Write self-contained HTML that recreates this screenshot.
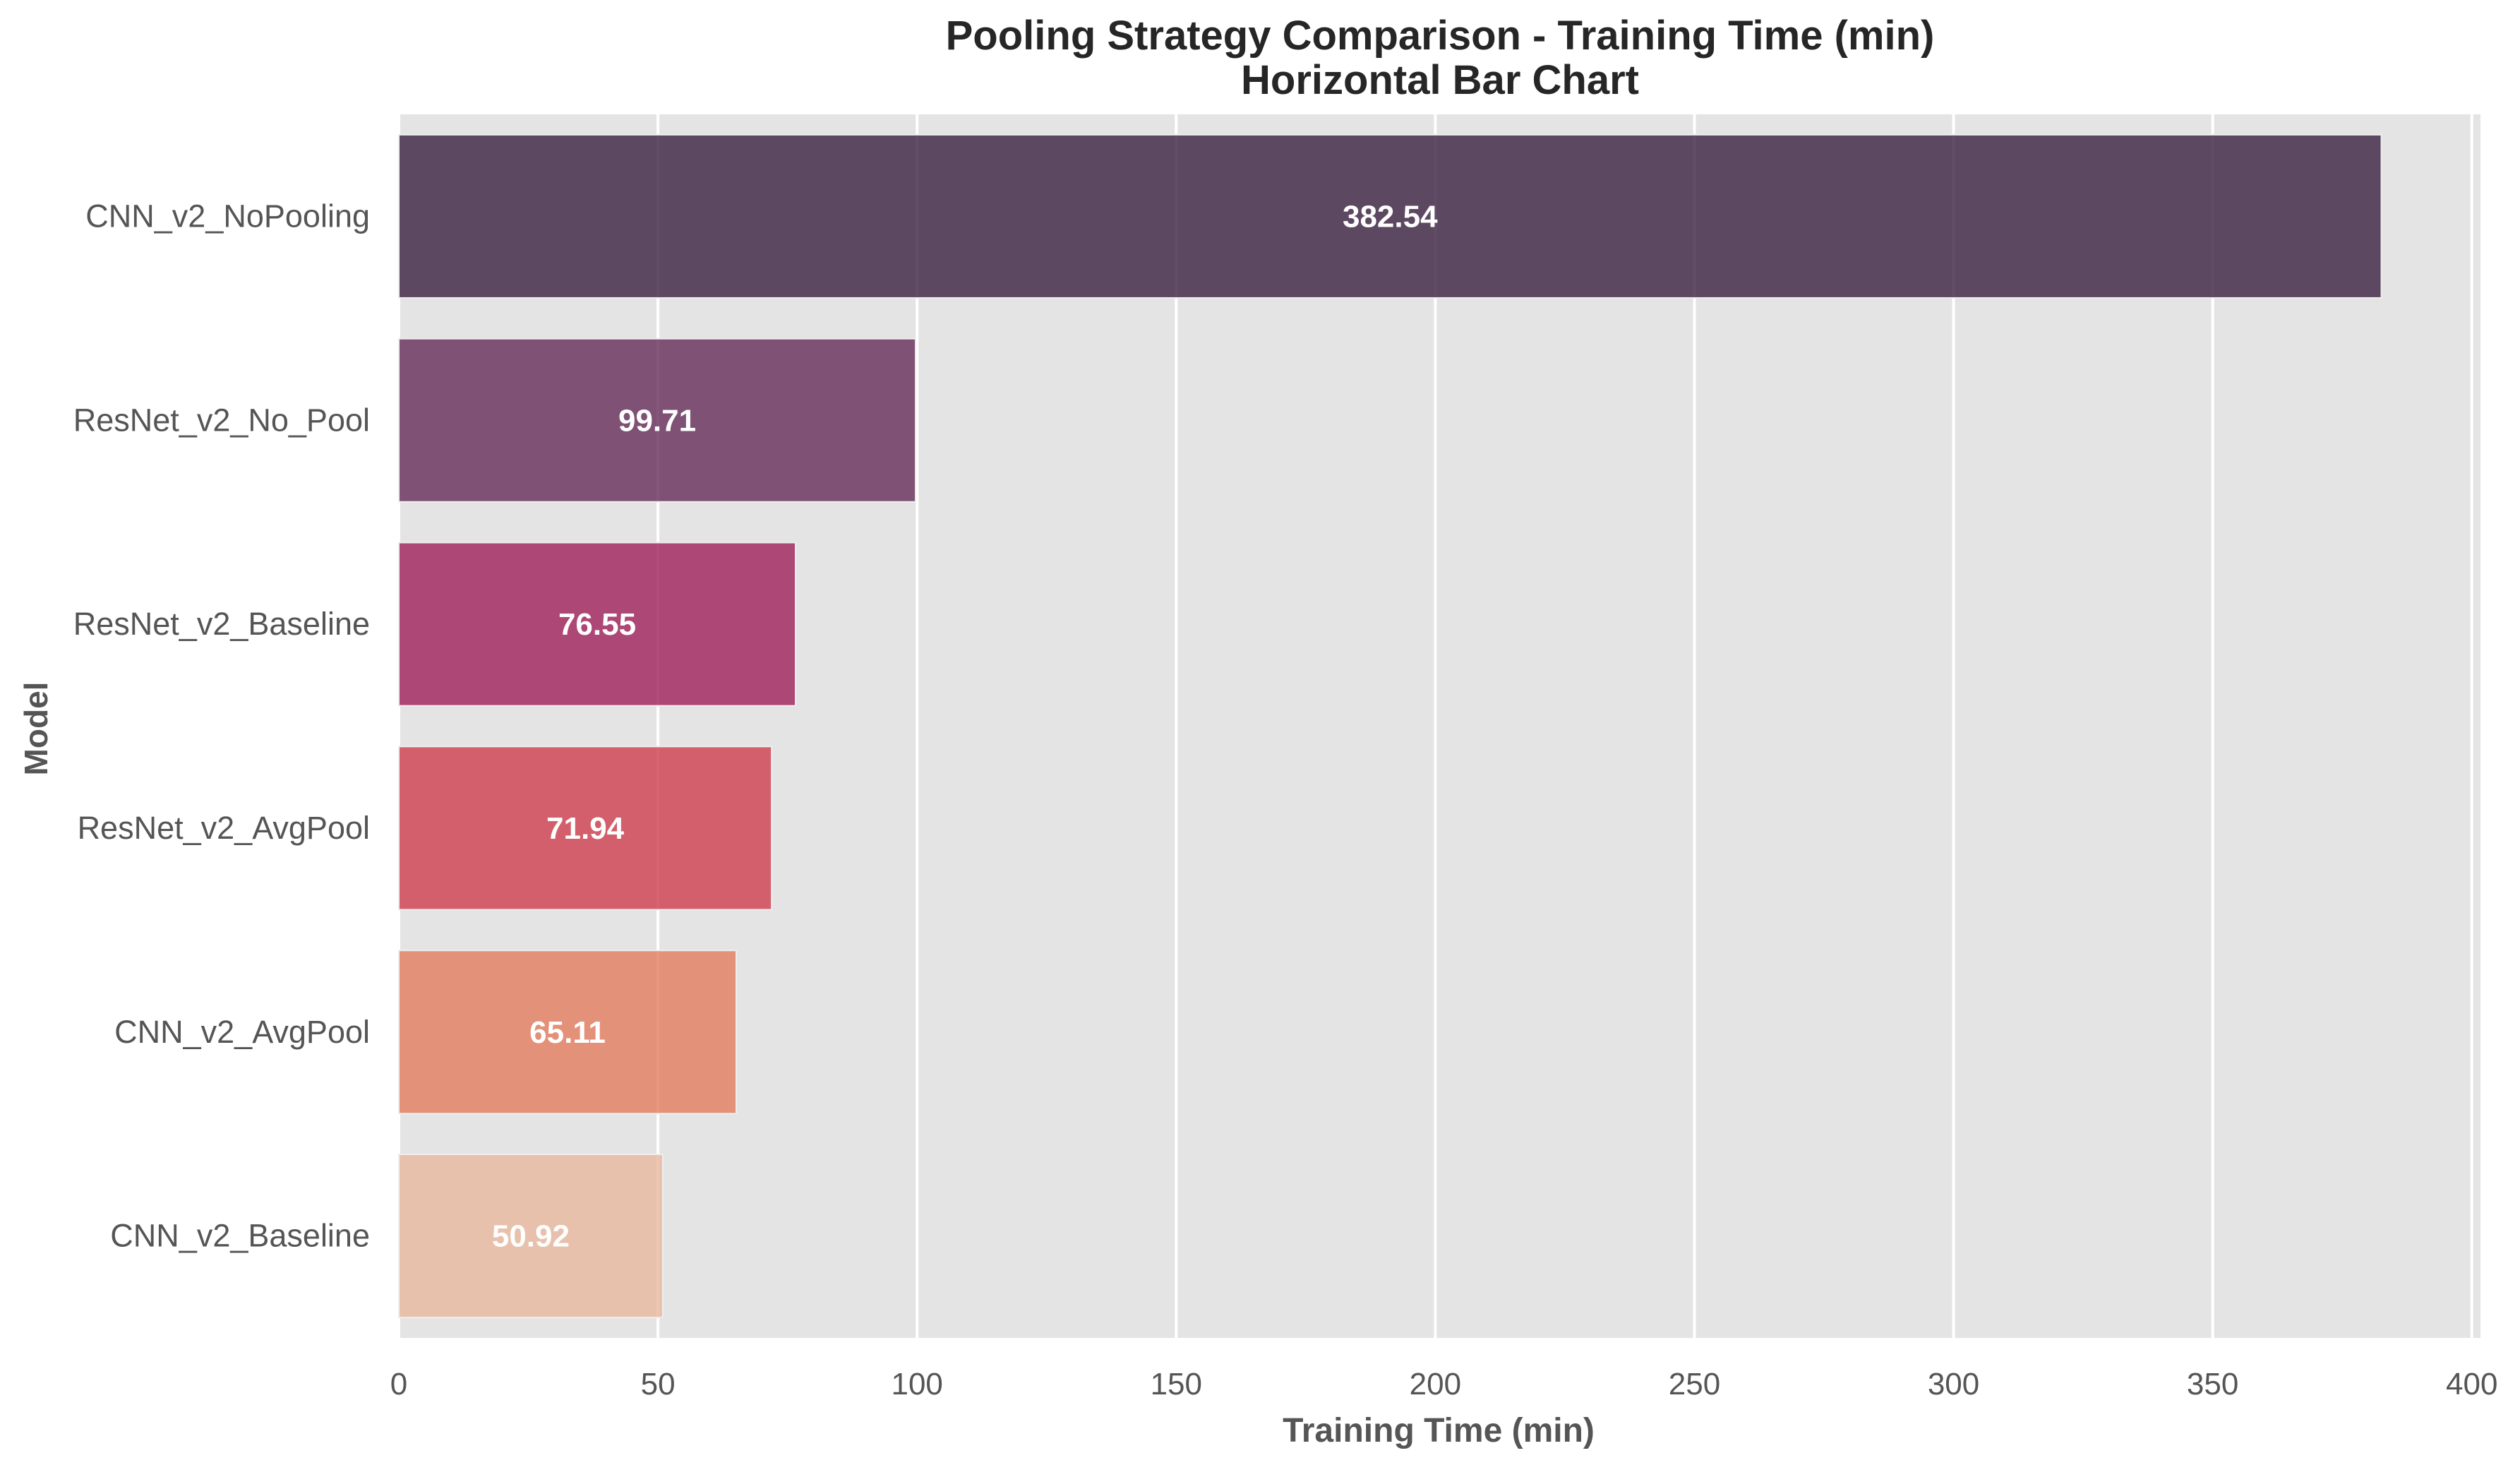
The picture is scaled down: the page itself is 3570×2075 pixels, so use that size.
<!DOCTYPE html>
<html><head><meta charset="utf-8"><style>
html,body{margin:0;padding:0;background:#fff;}
svg{display:block;font-family:"Liberation Sans",Arial,sans-serif;}
</style></head><body>
<svg id="chart" width="3570" height="2075" viewBox="0 0 3570 2075">
<text x="2040" y="70" text-anchor="middle" font-size="58" font-weight="bold" fill="#262626">Pooling Strategy Comparison - Training Time (min)</text>
<text x="2040" y="133" text-anchor="middle" font-size="58" font-weight="bold" fill="#262626">Horizontal Bar Chart</text>
<rect x="565" y="162" width="2949" height="1733" fill="#e4e4e4"/>
<g id="grid"></g>
<g id="bars"></g>
<g id="ylabels"></g>
<g id="xticks"></g>
<text x="2038" y="2042" text-anchor="middle" font-size="48" font-weight="bold" fill="#555">Training Time (min)</text>
<text x="0" y="0" transform="translate(67,1032) rotate(-90)" text-anchor="middle" font-size="46" font-weight="bold" fill="#555">Model</text>
</svg>
<script>
const categories = ["CNN_v2_NoPooling","ResNet_v2_No_Pool","ResNet_v2_Baseline","ResNet_v2_AvgPool","CNN_v2_AvgPool","CNN_v2_Baseline"];
const values = [382.54, 99.71, 76.55, 71.94, 65.11, 50.92];
const valueLabels = ["382.54","99.71","76.55","71.94","65.11","50.92"];
const colors = ["#3a2140","#652c58","#9d1f5a","#cd3d4c","#e27c5c","#e7b89c"];
const xTicks = [0,50,100,150,200,250,300,350,400];

const L=565,R=3514,T=162,B=1895,XMAX=401.67;
const NS="http://www.w3.org/2000/svg";
function x(v){return L+(R-L)*v/XMAX;}
const band=(B-T)/categories.length;
function yc(i){return T+band*(i+0.5);}
function mk(tag,attrs,parent){const e=document.createElementNS(NS,tag);for(const k in attrs)e.setAttribute(k,attrs[k]);document.getElementById(parent).appendChild(e);return e;}

xTicks.forEach(t=>{
  const g=mk('line',{x1:x(t),x2:x(t),y1:T,y2:B,stroke:'#fff','stroke-width':4},'grid');
  
  
  const tl=mk('text',{x:x(t),y:1975,'text-anchor':'middle','font-size':44,fill:'#555'},'xticks');
  tl.textContent=t;
  
  
});
const bh=band*0.8;
categories.forEach((c,i)=>{
  const r=mk('rect',{x:x(0),y:yc(i)-bh/2,width:x(values[i])-x(0),height:bh,fill:colors[i],'fill-opacity':0.8,stroke:'#eee','stroke-width':2},'bars');
  
  
  const v=mk('text',{x:x(values[i]/2),y:yc(i)+15,'text-anchor':'middle','font-size':44,'font-weight':'bold',fill:'#fff'},'bars');
  v.textContent=valueLabels[i];
  
  
  const yl=mk('text',{x:524,y:yc(i)+15,'text-anchor':'end','font-size':45,fill:'#555'},'ylabels');
  yl.textContent=c;
  
  
});
</script>
</body></html>
